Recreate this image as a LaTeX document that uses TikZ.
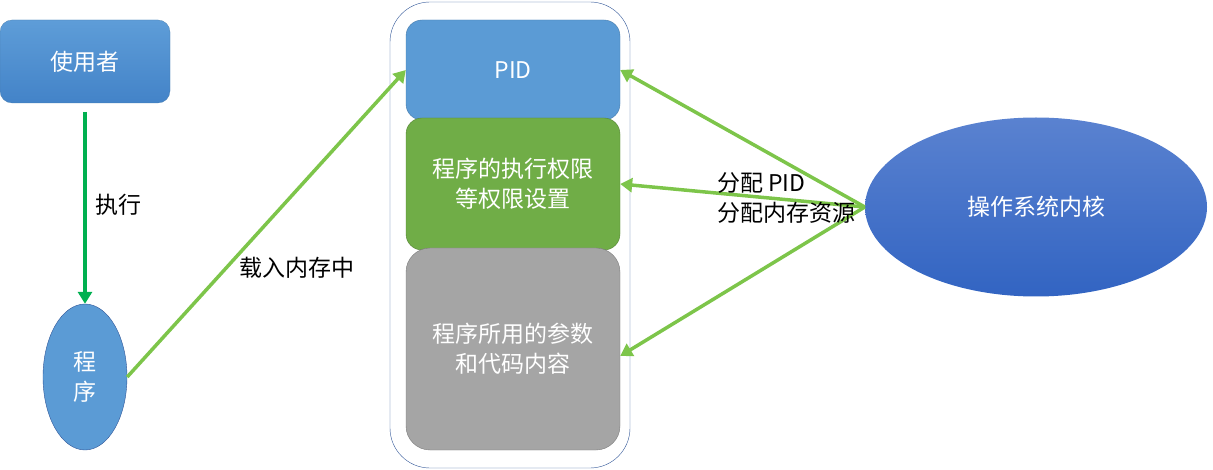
\documentclass[tikz,border=0pt]{standalone}
\usepackage{fontspec}
\setmainfont{Noto Sans CJK SC}
\usetikzlibrary{shapes.geometric, arrows.meta}

\definecolor{boxblue}{HTML}{5B9BD5}
\definecolor{boxgreen}{HTML}{70AD47}
\definecolor{boxgray}{HTML}{A5A5A5}
\definecolor{linegreen}{HTML}{7DC54A}
\definecolor{stepgreen}{HTML}{00B050}
\definecolor{edgeblue}{HTML}{2F5597}
\definecolor{usertop}{HTML}{5E9DD8}
\definecolor{userbottom}{HTML}{4383C8}
\definecolor{kerneltop}{HTML}{5A82D0}
\definecolor{kernelbottom}{HTML}{3264C2}

\tikzset{
	txt/.style={font=\fontsize{23}{30}\selectfont, align=center, inner sep=0pt},
	wtxt/.style={txt, text=white},
	block/.style={wtxt, rectangle, rounded corners=16pt, minimum width=214pt},
	load/.style={line width=3.5pt, draw=linegreen, -{Triangle[length=12pt, width=14pt]}},
}

\begin{document}
\begin{tikzpicture}[x=1pt, y=-1pt]
		\useasboundingbox (0,0) rectangle (1213,470);
		
		% left side
		\node[block, minimum width=170pt, minimum height=83pt, rounded corners=12pt,
			top color=usertop, bottom color=userbottom, draw=boxblue!80!black, very thin]
			(user) at (85,61.5) {使用者};
		\node[wtxt, ellipse, minimum width=84pt, minimum height=146pt, fill=boxblue, draw=edgeblue, thin]
			(prog) at (85,377) {程\\序};
		\draw[line width=3.5pt, draw=stepgreen, -{Triangle[length=12pt, width=14pt]}]
			(85,112) coordinate (ustart) -- (prog.north);
		\node[txt, anchor=west] (runlbl) at (95,205) {执行};
		
		% memory
		\node[rectangle, draw=edgeblue, thin, rounded corners=40pt, minimum width=240pt, minimum height=466pt]
			(mem) at (510,235) {};
		\node[block, minimum height=100pt, fill=boxblue, draw=boxblue!80!black, thin]
			(pid) at (513,70) {PID};
		\node[block, minimum height=132pt, fill=boxgreen, draw=boxgreen!75!black, thin]
			(perm) at (513,184) {程序的执行权限\\等权限设置};
		\node[block, minimum height=202pt, rounded corners=24pt, fill=boxgray, draw=boxgray!75!black, thin]
			(code) at (513,349) {程序所用的参数\\和代码内容};
		
		\draw[load] (prog.east) -- (pid.west);
		\node[txt] (loadlbl) at (297,268) {载入内存中};
		
		% kernel
		\node[wtxt, ellipse, minimum width=342pt, minimum height=179pt,
			top color=kerneltop, bottom color=kernelbottom, draw=none]
			(kernel) at (1036,207) {操作系统内核};
		
		\draw[load] (kernel.west) -- (pid.east);
		\draw[load] (kernel.west) -- (perm.east);
		\draw[load] (kernel.west) -- ([yshift=-7pt]code.east);
		\node[txt, align=left, anchor=west] (kernlbl) at (717,198) {分配 PID\\分配内存资源};
		
	\end{tikzpicture}
\end{document}
